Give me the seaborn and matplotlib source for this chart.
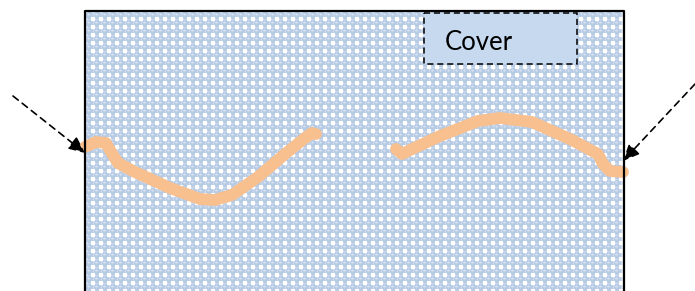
import numpy as np
import matplotlib
matplotlib.use("Agg")
import matplotlib.pyplot as plt
from matplotlib.patches import Rectangle
import seaborn as sns

# Curve pieces (pixel coordinates)
left_x = [85, 96, 106, 111, 118, 135, 170, 200, 215, 232, 258, 285, 305, 312, 316]
left_y = [147, 142, 143, 152, 163, 172, 188, 199, 200, 195, 177, 154, 138, 133, 134]
right_x = [396, 402, 410, 440, 478, 500, 532, 572, 598, 603, 610, 623]
right_y = [149, 154, 150, 136, 121, 118, 122, 140, 154, 164, 171, 172]

cover_label = "Cover"

sns.set_style("white")
plt.rcParams["font.family"] = ["Lato", "DejaVu Sans"]

fig = plt.figure(figsize=(6.95, 2.91), dpi=100)
ax = fig.add_axes([0, 0, 1, 1])
ax.set_xlim(0, 695)
ax.set_ylim(291, 0)
ax.axis("off")

# Patterned box
x0, y0, x1, y1 = 85, 11, 624, 295
ax.add_patch(Rectangle((x0, y0), x1 - x0, y1 - y0, facecolor="#dbe5f3",
                       edgecolor="none", zorder=1))
gx, gy = np.meshgrid(np.arange(x0 + 4, x1, 8), np.arange(y0 + 4, y1, 8))
ax.scatter(gx.ravel(), gy.ravel(), s=30, color="#b7cbe5", linewidths=0, zorder=2)
ax.scatter(gx.ravel() - 1, gy.ravel() - 1.5, s=3, color="#d4e0f0", linewidths=0, zorder=2)
ax.scatter(gx.ravel() + 4, gy.ravel() + 4, s=6, marker="s", color="white",
           linewidths=0, zorder=2)
ax.plot([x0, x0, x1, x1], [y1, y0, y0, y1], color="black", lw=1.6, zorder=6,
        solid_joinstyle="miter")

# Orange curve
for xs, ys in [(left_x, left_y), (right_x, right_y)]:
    sns.lineplot(x=xs, y=ys, sort=False, estimator=None, color="#f8bf8f",
                 linewidth=8.5, ax=ax, zorder=4)
for line in ax.lines:
    line.set_solid_capstyle("round")
    line.set_solid_joinstyle("round")

# Cover box
ax.add_patch(Rectangle((424, 13), 153, 51, facecolor="#c6d9ef", edgecolor="black",
                       lw=1.1, linestyle=(0, (4, 2.5)), zorder=5))
ax.text(445, 43, cover_label, fontsize=18.5, va="center", ha="left",
        color="black", zorder=6)

# Dashed arrows
arrow_kw = dict(arrowstyle="-|>,head_length=1.0,head_width=0.45", color="black",
                lw=1.2, linestyle=(0, (4, 3)), shrinkA=0, shrinkB=0)
ax.annotate("", xy=(85, 153), xytext=(13, 96), arrowprops=arrow_kw, zorder=7)
ax.annotate("", xy=(623, 161), xytext=(695, 84), arrowprops=arrow_kw, zorder=7)

fig.savefig("out.png", dpi=100)
